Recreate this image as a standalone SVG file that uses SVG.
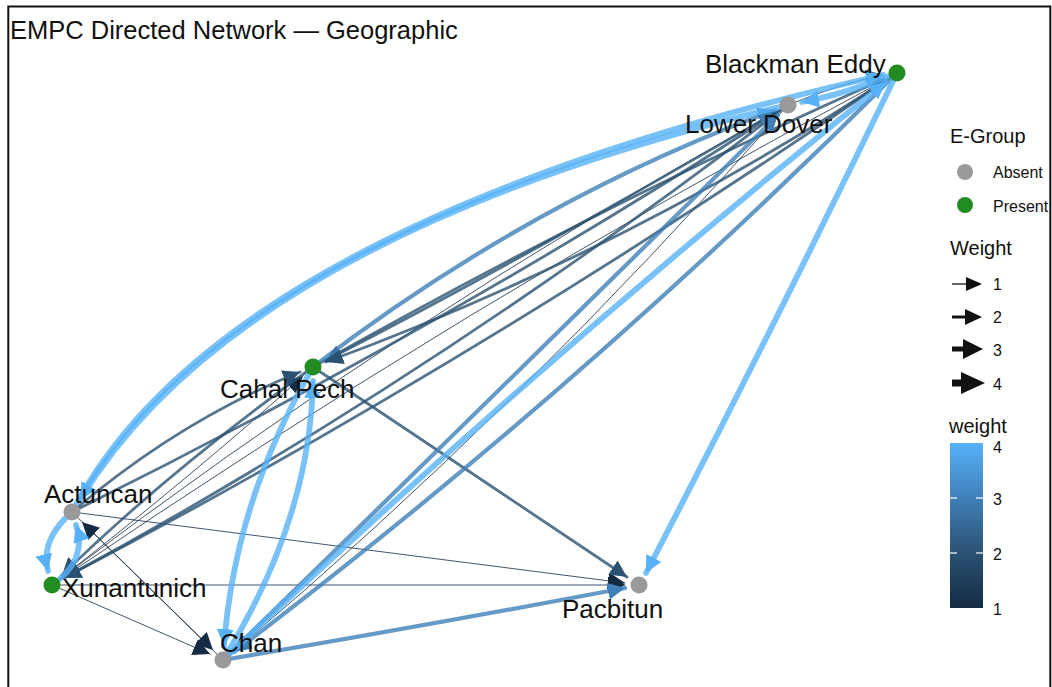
<svg xmlns="http://www.w3.org/2000/svg" width="1052" height="687" viewBox="0 0 1052 687">
  <style>
    text { font-family: "Liberation Sans", Arial, sans-serif; fill: #111; }
    .lbl { font-size: 26px; }
    .title { font-size: 25.5px; }
    .lgh { font-size: 20px; }
    .lgt { font-size: 16px; }
    .e { fill: none; stroke-linecap: round; stroke-opacity: 0.8; }
    .w1 { stroke: #132B43; stroke-width: 1; marker-end: url(#a1); }
    .w2 { stroke: #2B5272; stroke-width: 2.8; marker-end: url(#a2); }
    .w3 { stroke: #3F80B8; stroke-width: 4.2; marker-end: url(#a3); }
    .w4 { stroke: #56B1F7; stroke-width: 5.8; marker-end: url(#a4); }
    .absent { fill: #999999; }
    .present { fill: #228B22; }
  </style>
  <defs>
    <marker id="a1" viewBox="0 0 17 17" refX="17" refY="8.5" markerWidth="17" markerHeight="17" markerUnits="userSpaceOnUse" orient="auto">
      <path d="M0,0 L17,8.5 L0,17 z" fill="#132B43"/>
    </marker>
    <marker id="a2" viewBox="0 0 17 17" refX="17" refY="8.5" markerWidth="17" markerHeight="17" markerUnits="userSpaceOnUse" orient="auto">
      <path d="M0,0 L17,8.5 L0,17 z" fill="#2B5272"/>
    </marker>
    <marker id="a3" viewBox="0 0 17 17" refX="17" refY="8.5" markerWidth="17" markerHeight="17" markerUnits="userSpaceOnUse" orient="auto">
      <path d="M0,0 L17,8.5 L0,17 z" fill="#3F80B8"/>
    </marker>
    <marker id="a4" viewBox="0 0 17 17" refX="17" refY="8.5" markerWidth="17" markerHeight="17" markerUnits="userSpaceOnUse" orient="auto">
      <path d="M0,0 L17,8.5 L0,17 z" fill="#56B1F7"/>
    </marker>
    <linearGradient id="wgrad" x1="0" y1="0" x2="0" y2="1">
      <stop offset="0" stop-color="#56B1F7"/>
      <stop offset="0.333" stop-color="#3F80B8"/>
      <stop offset="0.667" stop-color="#2B5272"/>
      <stop offset="1" stop-color="#132B43"/>
    </linearGradient>
  </defs>

  <rect x="0" y="0" width="1052" height="687" fill="#ffffff"/>

  <text class="title" x="10" y="39">EMPC Directed Network — Geographic</text>

  <!-- directed edges, coloured and sized by weight -->
  <g id="edges">
    <path class="e w1" d="M788,105 Q845,82 883,75"/>
    <path class="e w1" d="M52,585 Q470,300 885,80"/>
    <path class="e w1" d="M52,585 Q400,320 776,112"/>
    <path class="e w1" d="M788,105 Q520,410 234,651"/>
    <path class="e w1" d="M52,585 L625,585"/>
    <path class="e w1" d="M72,512 L625,583"/>
    <path class="e w1" d="M72,512 L213,650"/>
    <path class="e w1" d="M52,585 L210,654"/>
    <path class="e w1" d="M223,660 L82,522"/>
    <path class="e w1" d="M52,585 Q200,470 303,376"/>
    <path class="e w2" d="M313,367 Q610,200 884,79"/>
    <path class="e w2" d="M897,73 Q630,250 326,362"/>
    <path class="e w2" d="M788,105 Q540,250 325,361"/>
    <path class="e w2" d="M897,73 Q480,360 64,578"/>
    <path class="e w2" d="M788,105 Q430,380 64,578"/>
    <path class="e w2" d="M72,512 Q440,330 776,113"/>
    <path class="e w2" d="M313,367 L627,577"/>
    <path class="e w2" d="M72,512 Q180,420 300,372"/>
    <path class="e w2" d="M313,367 Q170,470 62,575"/>
    <path class="e w3" d="M897,73 Q580,390 234,652"/>
    <path class="e w3" d="M313,367 Q530,200 775,110"/>
    <path class="e w3" d="M223,660 Q500,390 778,115"/>
    <path class="e w3" d="M223,660 Q430,625 625,588"/>
    <path class="e w4" d="M72,512 Q220,225 883,75"/>
    <path class="e w4" d="M788,105 Q240,235 80,500"/>
    <path class="e w4" d="M897,73 Q842,95 802,102"/>
    <path class="e w4" d="M223,660 Q540,360 886,82"/>
    <path class="e w4" d="M897,73 Q775,325 646,573"/>
    <path class="e w4" d="M313,367 Q235,500 224,646"/>
    <path class="e w4" d="M223,660 Q310,520 313,381"/>
    <path class="e w4" d="M72,512 Q40,540 48,571"/>
    <path class="e w4" d="M52,585 Q88,560 76,525"/>
  </g>

  <!-- sites -->
  <g id="blackman-eddy">
    <circle class="present" cx="897" cy="73" r="8.5"/>
    <text class="lbl" x="705" y="73">Blackman Eddy</text>
  </g>
  <g id="lower-dover">
    <circle class="absent" cx="788" cy="105" r="8.5"/>
    <text class="lbl" x="685" y="133">Lower Dover</text>
  </g>
  <g id="cahal-pech">
    <circle class="present" cx="313" cy="367" r="8.5"/>
    <text class="lbl" x="220" y="398">Cahal Pech</text>
  </g>
  <g id="actuncan">
    <circle class="absent" cx="72" cy="512" r="8.5"/>
    <text class="lbl" x="44" y="503">Actuncan</text>
  </g>
  <g id="xunantunich">
    <circle class="present" cx="52" cy="585" r="8.5"/>
    <text class="lbl" x="62" y="597">Xunantunich</text>
  </g>
  <g id="chan">
    <circle class="absent" cx="223" cy="660" r="8.5"/>
    <text class="lbl" x="220" y="652">Chan</text>
  </g>
  <g id="pacbitun">
    <circle class="absent" cx="639" cy="585" r="8.5"/>
    <text class="lbl" x="562" y="618">Pacbitun</text>
  </g>

  <!-- legends -->
  <g id="legend-egroup">
    <text class="lgh" x="950" y="143">E-Group</text>
    <circle class="absent" cx="965" cy="172" r="8"/>
    <text class="lgt" x="993" y="178">Absent</text>
    <circle class="present" cx="965" cy="205" r="8"/>
    <text class="lgt" x="993" y="212">Present</text>
  </g>
  <g id="legend-weight" fill="#111">
    <text class="lgh" x="950" y="255">Weight</text>
    <line x1="952" y1="284" x2="970" y2="284" stroke="#111" stroke-width="1.3"/>
    <polygon points="966,277 982,284 966,291"/>
    <text class="lgt" x="993" y="290">1</text>
    <line x1="952" y1="317" x2="970" y2="317" stroke="#111" stroke-width="3"/>
    <polygon points="965,309 982,317 965,325"/>
    <text class="lgt" x="993" y="323">2</text>
    <line x1="952" y1="349" x2="968" y2="349" stroke="#111" stroke-width="5"/>
    <polygon points="963,339 983,349 963,359"/>
    <text class="lgt" x="993" y="356">3</text>
    <line x1="952" y1="383" x2="966" y2="383" stroke="#111" stroke-width="7"/>
    <polygon points="961,372 985,383 961,394"/>
    <text class="lgt" x="993" y="390">4</text>
  </g>
  <g id="legend-colourbar">
    <text class="lgh" x="949" y="433">weight</text>
    <rect x="950" y="443" width="33" height="165" fill="url(#wgrad)"/>
    <g stroke="#ffffff" stroke-width="1.2">
      <line x1="950" y1="498" x2="957" y2="498"/>
      <line x1="976" y1="498" x2="983" y2="498"/>
      <line x1="950" y1="553" x2="957" y2="553"/>
      <line x1="976" y1="553" x2="983" y2="553"/>
    </g>
    <text class="lgt" x="993" y="453">4</text>
    <text class="lgt" x="993" y="505">3</text>
    <text class="lgt" x="993" y="560">2</text>
    <text class="lgt" x="993" y="615">1</text>
  </g>

  <!-- panel frame -->
  <rect x="8.3" y="6.5" width="1042" height="700" fill="none" stroke="#111" stroke-width="2"/>
</svg>
